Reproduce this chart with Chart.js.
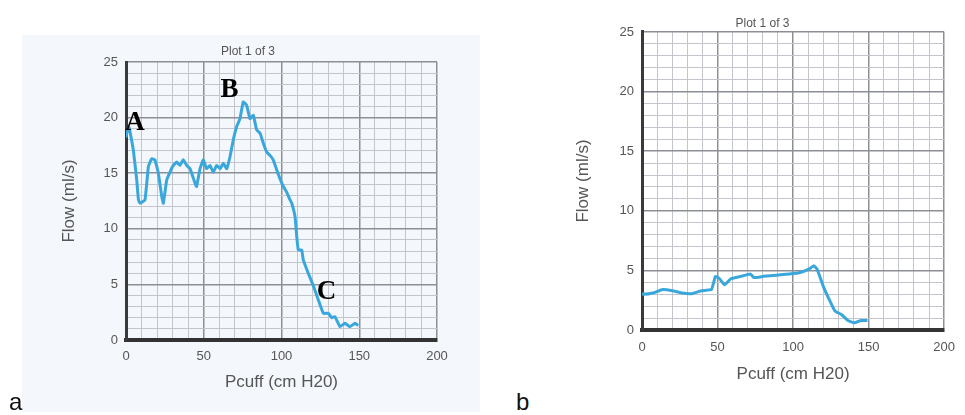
<!DOCTYPE html>
<html>
<head>
<meta charset="utf-8">
<script src="https://cdn.jsdelivr.net/npm/chart.js@4"></script>
<style>
  body { margin: 0; background: #fff; width: 965px; height: 415px; position: relative; overflow: hidden; }
  .box { position: absolute; }
  .lbl { position: absolute; font: 24px "Liberation Sans", Arial, sans-serif; line-height: 24px; color: #111; }
</style>
</head>
<body>
<div class="box" style="left:22px; top:35px; width:458px; height:377px; background:#f4f7fb;">
  <canvas id="chartA"></canvas>
</div>
<div class="box" style="left:540px; top:0px; width:425px; height:415px;">
  <canvas id="chartB"></canvas>
</div>
<div class="lbl" style="left:9px; top:390px;">a</div>
<div class="lbl" style="left:516px; top:390px;">b</div>

<script>
/* dados */
const pcuffA = [0, 0.5, 2, 4.7, 6.9, 8, 9, 12.2, 14.4, 16.5, 18.6, 20.8, 23, 24, 26.2, 28.3, 30.4, 32.6, 34.7, 36.8, 39, 41.2, 44.4, 45.4, 47.6, 49.7, 51.9, 54, 56.1, 58.3, 60.5, 62.6, 64.8, 66.9, 69, 71.2, 73.3, 75.4, 77.6, 79.7, 81.9, 84, 86.2, 88.3, 90.5, 92.6, 94.7, 96.9, 99, 101.2, 103.3, 105.5, 106.6, 108.7, 109.8, 110.8, 113, 114, 117.2, 120.4, 123.7, 126.9, 130.1, 132.3, 134.4, 137.6, 140.8, 144, 147.3, 149.4];
const flowA = [18.2, 18.6, 19.1, 17.1, 14.4, 12.6, 12.3, 12.6, 15.6, 16.3, 16.2, 15, 12.9, 12.3, 14.4, 15.1, 15.7, 16, 15.7, 16.2, 15.7, 15.4, 14.1, 13.8, 15.4, 16.2, 15.4, 15.7, 15.1, 15.7, 15.4, 15.9, 15.4, 16.5, 18, 19.2, 19.9, 21.4, 21.1, 19.9, 20.2, 18.9, 18.6, 17.7, 16.9, 16.6, 16.2, 15.3, 14.5, 13.8, 13.3, 12.6, 12.3, 11.1, 9.3, 8.1, 8.1, 7.2, 6, 4.9, 3.6, 2.4, 2.4, 2, 2.1, 1.2, 1.5, 1.2, 1.5, 1.3];

const pcuffB = [0, 0.8, 7.3, 13.7, 20.2, 26.6, 33.1, 39.5, 46, 48.6, 51.4, 54.6, 58.9, 65.4, 71.8, 74, 80.4, 89, 97.6, 104, 110.5, 113.7, 115.9, 120.2, 124.5, 127.7, 132, 136.3, 140.6, 145, 149.2];
const flowB = [3.1, 3, 3.1, 3.4, 3.3, 3.1, 3.05, 3.3, 3.4, 4.5, 4.3, 3.8, 4.3, 4.5, 4.7, 4.4, 4.5, 4.6, 4.7, 4.8, 5.1, 5.4, 5.1, 3.6, 2.4, 1.6, 1.3, 0.8, 0.6, 0.8, 0.8];

const annLabels = ['A', 'B', 'C'];
const annX = [5.8, 66.6, 128.9];
const annY = [18.9, 21.85, 3.7];

const fonte = "'Liberation Sans', Arial, sans-serif";
const corTexto = '#555';
const corLinha = '#3aa7dc';

/* letras A B C sobre o grafico a */
const letrasPlugin = {
    id: 'letras',
    afterDatasetsDraw(chart, args, opts) {
        if (!opts.labels) return;
        const ctx = chart.ctx;
        ctx.save();
        ctx.font = 'bold 27px "Liberation Serif", "Times New Roman", serif';
        ctx.fillStyle = '#000';
        ctx.textAlign = 'center';
        ctx.textBaseline = 'alphabetic';
        opts.labels.forEach((t, i) => {
            ctx.fillText(t, chart.scales.x.getPixelForValue(opts.xs[i]), chart.scales.y.getPixelForValue(opts.ys[i]));
        });
        ctx.restore();
    }
};

function montaGrafico(id, xs, ys, cfg) {
    return new Chart(document.getElementById(id), {
        type: 'line',
        data: {
            datasets: [{
                data: xs.map((v, i) => ({ x: v, y: ys[i] })),
                borderColor: corLinha,
                borderWidth: 3,
                pointRadius: 0,
                tension: 0.1,
                fill: false
            }]
        },
        options: {
            responsive: true,
            maintainAspectRatio: false,
            animation: false,
            layout: { padding: cfg.padding },
            plugins: {
                legend: { display: false },
                tooltip: { enabled: false },
                title: {
                    display: true,
                    text: 'Plot 1 of 3',
                    color: corTexto,
                    font: { size: 12, family: fonte, weight: 'normal' },
                    padding: cfg.titlePad
                },
                letras: cfg.letras || {}
            },
            scales: {
                x: {
                    type: 'linear',
                    min: 0,
                    max: 200,
                    afterFit: (s) => { s.height = cfg.xHeight; },
                    ticks: {
                        stepSize: 10,
                        autoSkip: false,
                        maxRotation: 0,
                        padding: cfg.xTickPad,
                        color: corTexto,
                        font: { size: 13, family: fonte },
                        callback: (v) => v % 50 === 0 ? v : ''
                    },
                    grid: {
                        drawTicks: false,
                        color: (c) => c.tick && c.tick.value % 50 === 0 ? '#8c8f95' : '#c2c5cb',
                        lineWidth: (c) => c.tick && c.tick.value % 50 === 0 ? 1.5 : 1
                    },
                    border: { color: '#333', width: 4 },
                    title: {
                        display: true,
                        text: 'Pcuff (cm H20)',
                        color: corTexto,
                        font: { size: 17, family: fonte },
                        padding: { top: 0, bottom: cfg.xTitlePad }
                    }
                },
                y: {
                    min: 0,
                    max: 25,
                    afterFit: (s) => { s.width = cfg.yWidth; },
                    ticks: {
                        stepSize: 1,
                        autoSkip: false,
                        padding: 8,
                        color: corTexto,
                        font: { size: 13, family: fonte },
                        callback: (v) => v % 5 === 0 ? v : ''
                    },
                    grid: {
                        drawTicks: false,
                        color: (c) => c.tick && c.tick.value % 5 === 0 ? '#8c8f95' : '#c2c5cb',
                        lineWidth: (c) => c.tick && c.tick.value % 5 === 0 ? 1.5 : 1
                    },
                    border: { color: '#3a3a3a', width: 3 },
                    title: {
                        display: true,
                        text: 'Flow (ml/s)',
                        color: corTexto,
                        font: { size: 17, family: fonte },
                        padding: 0
                    }
                }
            }
        },
        plugins: [letrasPlugin]
    });
}

/* grafico a */
montaGrafico('chartA', pcuffA, flowA, {
    padding: { left: 37, right: 43, top: 0, bottom: 7 },
    titlePad: { top: 9.8, bottom: 2.8 },
    yWidth: 67,
    xHeight: 65,
    xTickPad: 9,
    xTitlePad: 12,
    letras: { labels: annLabels, xs: annX, ys: annY }
});

/* grafico b */
montaGrafico('chartB', pcuffB, flowB, {
    padding: { left: 33, right: 13, top: 0, bottom: 0 },
    titlePad: { top: 16.4, bottom: 1.2 },
    yWidth: 69,
    xHeight: 85,
    xTickPad: 10,
    xTitlePad: 30
});
</script>
</body>
</html>
